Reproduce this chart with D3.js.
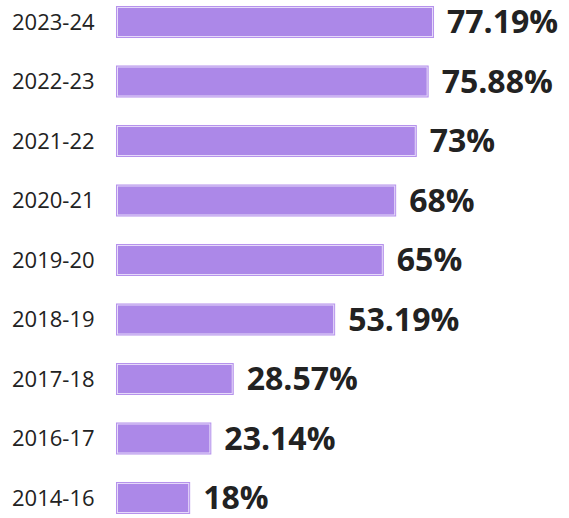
<!DOCTYPE html>
<html lang="en">
<head>
    <meta charset="UTF-8">
    <title>Chart</title>
    <script src="https://cdn.jsdelivr.net/npm/d3@7"></script>
    <style>
        body { margin: 0; background: #fff; }
        text { font-family: "Open Sans", "Noto Sans", sans-serif; fill: #222; }
    </style>
</head>
<body>
    <svg width="569" height="518"></svg>
    <script>
        var years = ['2023-24', '2022-23', '2021-22', '2020-21', '2019-20', '2018-19', '2017-18', '2016-17', '2014-16']
        var values = [77.19, 75.88, 73, 68, 65, 53.19, 28.57, 23.14, 18]
        var valueLabels = ['77.19%', '75.88%', '73%', '68%', '65%', '53.19%', '28.57%', '23.14%', '18%']

        var svg = d3.select('svg')
        var left = 116

        var y = d3.scaleBand()
            .domain(years)
            .range([6, 514])
            .paddingInner(0.462)
        var x = d3.scaleLinear()
            .domain([0, 100])
            .range([0, 412])

        var g = svg.append('g').attr('transform', 'translate(' + left + ',0)')

        var rows = g.selectAll('g.row').data(years).enter().append('g').attr('class', 'row')

        // bar with a thin light inner edge
        rows.append('rect')
            .attr('x', 0.5)
            .attr('y', function (d) { return y(d) + 0.5 })
            .attr('width', function (d, i) { return x(values[i]) - 1 })
            .attr('height', y.bandwidth() - 1)
            .attr('fill', '#ac88e8')
            .attr('stroke', '#b692ec')
        rows.append('rect')
            .attr('x', 1.5)
            .attr('y', function (d) { return y(d) + 1.5 })
            .attr('width', function (d, i) { return x(values[i]) - 3 })
            .attr('height', y.bandwidth() - 3)
            .attr('fill', 'none')
            .attr('stroke', '#e6dafa')

        // category labels
        svg.selectAll('text.cat').data(years).enter().append('text')
            .attr('class', 'cat')
            .attr('x', 12)
            .attr('y', function (d) { return y(d) + y.bandwidth() / 2 })
            .attr('dy', '0.35em')
            .style('font-size', '22px')
            .text(function (d) { return d })

        // value labels
        svg.selectAll('text.val').data(years).enter().append('text')
            .attr('class', 'val')
            .attr('x', function (d, i) { return left + x(values[i]) + 13 })
            .attr('y', function (d) { return y(d) + y.bandwidth() / 2 })
            .attr('dy', '0.35em')
            .style('font-size', '32px')
            .style('font-weight', 'bold')
            .text(function (d, i) { return valueLabels[i] })
    </script>
</body>
</html>
